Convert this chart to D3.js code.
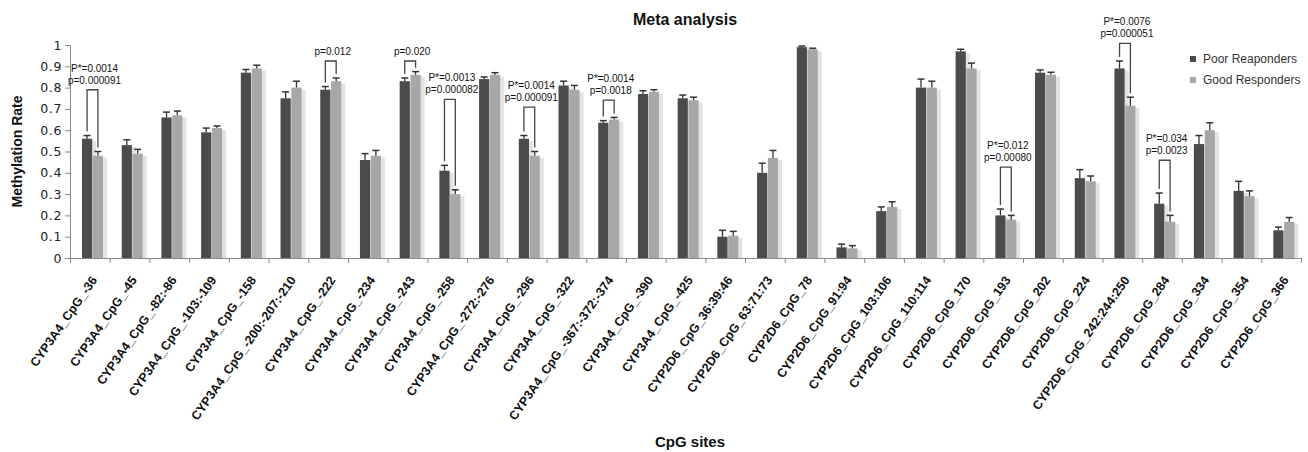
<!DOCTYPE html>
<html>
<head>
<meta charset="utf-8">
<script src="https://cdn.jsdelivr.net/npm/d3@7"></script>
<style>
  body { margin: 0; background: #fff; }
  svg { display: block; font-family: "Liberation Sans", Arial, sans-serif; }
</style>
</head>
<body>
<div id="chart"></div>
<script>
// CpG sites on the x axis
const sites = [
  "CYP3A4_CpG_-36", "CYP3A4_CpG_-45", "CYP3A4_CpG_-82:-86", "CYP3A4_CpG_-103:-109",
  "CYP3A4_CpG_-158", "CYP3A4_CpG_-200:-207:-210", "CYP3A4_CpG_-222", "CYP3A4_CpG_-234",
  "CYP3A4_CpG_-243", "CYP3A4_CpG_-258", "CYP3A4_CpG_-272:-276", "CYP3A4_CpG_-296",
  "CYP3A4_CpG_-322", "CYP3A4_CpG_-367:-372:-374", "CYP3A4_CpG_-390", "CYP3A4_CpG_-425",
  "CYP2D6_CpG_36:39:46", "CYP2D6_CpG_63:71:73", "CYP2D6_CpG_78", "CYP2D6_CpG_91:94",
  "CYP2D6_CpG_103:106", "CYP2D6_CpG_110:114", "CYP2D6_CpG_170", "CYP2D6_CpG_193",
  "CYP2D6_CpG_202", "CYP2D6_CpG_224", "CYP2D6_CpG_242:244:250", "CYP2D6_CpG_284",
  "CYP2D6_CpG_334", "CYP2D6_CpG_354", "CYP2D6_CpG_366"
];

// mean methylation rate
const poor = [
  0.56, 0.53, 0.66, 0.59, 0.87, 0.75, 0.79, 0.46, 0.83, 0.41, 0.84, 0.56, 0.81, 0.635, 0.77, 0.75,
  0.10, 0.40, 0.99, 0.05, 0.22, 0.80, 0.97, 0.20, 0.87, 0.375, 0.89, 0.255, 0.535, 0.315, 0.13
];
const good = [
  0.48, 0.49, 0.67, 0.61, 0.89, 0.80, 0.83, 0.48, 0.86, 0.30, 0.86, 0.48, 0.79, 0.65, 0.78, 0.74,
  0.105, 0.47, 0.98, 0.045, 0.24, 0.80, 0.89, 0.18, 0.86, 0.36, 0.715, 0.17, 0.60, 0.29, 0.17
];
// upper error bars
const poorErr = [
  0.015, 0.025, 0.025, 0.02, 0.015, 0.03, 0.015, 0.03, 0.015, 0.025, 0.01, 0.015, 0.02, 0.01, 0.015, 0.015,
  0.03, 0.045, 0.005, 0.015, 0.02, 0.04, 0.01, 0.03, 0.013, 0.04, 0.035, 0.05, 0.04, 0.045, 0.015
];
const goodErr = [
  0.02, 0.02, 0.02, 0.01, 0.015, 0.03, 0.015, 0.025, 0.015, 0.02, 0.01, 0.02, 0.02, 0.01, 0.01, 0.015,
  0.02, 0.035, 0.005, 0.013, 0.024, 0.03, 0.025, 0.02, 0.012, 0.025, 0.04, 0.03, 0.035, 0.025, 0.02
];

const yTicks = [0, 0.1, 0.2, 0.3, 0.4, 0.5, 0.6, 0.7, 0.8, 0.9, 1];
const seriesNames = ["Poor Reaponders", "Good Responders"];

// significance brackets: site, label lines, bracket level (methylation units)
const annotations = [
  { site: "CYP3A4_CpG_-36", lines: ["P*=0.0014", "p=0.000091"], level: 0.79 },
  { site: "CYP3A4_CpG_-222", lines: ["p=0.012"], level: 0.925 },
  { site: "CYP3A4_CpG_-243", lines: ["p=0.020"], level: 0.925 },
  { site: "CYP3A4_CpG_-258", lines: ["P*=0.0013", "p=0.000082"], level: 0.745 },
  { site: "CYP3A4_CpG_-296", lines: ["P*=0.0014", "p=0.000091"], level: 0.708 },
  { site: "CYP3A4_CpG_-367:-372:-374", lines: ["P*=0.0014", "p=0.0018"], level: 0.741 },
  { site: "CYP2D6_CpG_193", lines: ["P*=0.012", "p=0.00080"], level: 0.427 },
  { site: "CYP2D6_CpG_242:244:250", lines: ["P*=0.0076", "p=0.000051"], level: 1.008 },
  { site: "CYP2D6_CpG_284", lines: ["P*=0.034", "p=0.0023"], level: 0.459 }
];

const colors = { poor: "#4b4b4b", good: "#a7a7a7" };

const W = 1308, H = 452;
const plotLeft = 70, plotRight = 1301, plotTop = 45, plotBottom = 258;

const svg = d3.select("#chart").append("svg")
  .attr("width", W)
  .attr("height", H);

const x = d3.scaleBand().domain(sites).range([plotLeft, plotRight]);
const xSub = d3.scaleBand().domain(["poor", "good"]).range([12, 33]).paddingInner(0.06);
const y = d3.scaleLinear().domain([0, 1]).range([plotBottom, plotTop]);

const data = sites.map((s, i) => ({
  site: s, poor: poor[i], good: good[i], poorErr: poorErr[i], goodErr: goodErr[i]
}));

// Title
svg.append("text")
  .attr("x", 685).attr("y", 25)
  .attr("text-anchor", "middle")
  .style("font-size", "16px")
  .style("font-weight", "bold")
  .style("fill", "#111")
  .text("Meta analysis");

// Bars with soft shadow
const groups = svg.append("g").selectAll("g")
  .data(data)
  .join("g")
  .attr("transform", d => `translate(${x(d.site)},0)`);

["poor", "good"].forEach(k => {
  groups.append("rect")
    .attr("x", xSub(k) + 3)
    .attr("y", d => y(d[k]) + 2)
    .attr("width", xSub.bandwidth() + 1)
    .attr("height", d => plotBottom - y(d[k]) - 2)
    .attr("fill", "#e3e3e3");
});
["poor", "good"].forEach(k => {
  groups.append("rect")
    .attr("x", xSub(k))
    .attr("y", d => y(d[k]))
    .attr("width", xSub.bandwidth())
    .attr("height", d => plotBottom - y(d[k]))
    .attr("fill", colors[k]);

  // upper error bars
  const cx = xSub(k) + xSub.bandwidth() / 2;
  groups.append("line")
    .attr("x1", cx).attr("x2", cx)
    .attr("y1", d => y(d[k]))
    .attr("y2", d => y(d[k] + d[k + "Err"]))
    .attr("stroke", "#333").attr("stroke-width", 1.3);
  groups.append("line")
    .attr("x1", cx - 3.5).attr("x2", cx + 3.5)
    .attr("y1", d => y(d[k] + d[k + "Err"]))
    .attr("y2", d => y(d[k] + d[k + "Err"]))
    .attr("stroke", "#333").attr("stroke-width", 1.5);
});

// Y axis
svg.append("g")
  .attr("transform", `translate(${plotLeft},0)`)
  .call(d3.axisLeft(y).tickValues(yTicks).tickFormat(d => d3.format("~g")(d)).tickSize(5).tickSizeOuter(0))
  .call(g => g.select(".domain").attr("stroke", "#888"))
  .call(g => g.selectAll(".tick line").attr("stroke", "#888"))
  .call(g => g.selectAll(".tick text")
    .style("font-family", "'DejaVu Sans', sans-serif")
    .style("font-size", "12.5px")
    .style("letter-spacing", "0.6px")
    .style("fill", "#222"));

// X axis: boundary ticks
const xEdge = d3.scaleLinear().domain([0, sites.length]).range([plotLeft, plotRight]);
svg.append("g")
  .attr("transform", `translate(0,${plotBottom})`)
  .call(d3.axisBottom(xEdge).tickValues(d3.range(0, sites.length + 1)).tickFormat("").tickSize(5).tickSizeOuter(0))
  .call(g => g.select(".domain").attr("stroke", "#888"))
  .call(g => g.selectAll(".tick line").attr("stroke", "#888"));

// X axis: rotated category labels
svg.append("g")
  .attr("transform", `translate(0,${plotBottom})`)
  .call(d3.axisBottom(x).tickSize(0))
  .call(g => g.select(".domain").remove())
  .selectAll(".tick text")
  .attr("x", 0)
  .attr("y", 0)
  .attr("dy", 0)
  .attr("transform", "translate(8,22) rotate(-55)")
  .attr("text-anchor", "end")
  .style("font-family", "'Liberation Sans', Arial, sans-serif")
  .style("font-size", "12.5px")
  .style("font-weight", "bold")
  .style("fill", "#111");

// Axis titles
svg.append("text")
  .attr("transform", `translate(22,${(plotTop + plotBottom) / 2}) rotate(-90)`)
  .attr("text-anchor", "middle")
  .style("font-size", "14px")
  .style("font-weight", "bold")
  .style("fill", "#111")
  .text("Methylation Rate");

svg.append("text")
  .attr("x", 690).attr("y", 447)
  .attr("text-anchor", "middle")
  .style("font-size", "15px")
  .style("font-weight", "bold")
  .style("fill", "#111")
  .text("CpG sites");

// Significance brackets
const byName = new Map(data.map(d => [d.site, d]));
annotations.forEach(a => {
  const d = byName.get(a.site);
  const x0 = x(a.site) + xSub("poor") + xSub.bandwidth() / 2;
  const x1 = x(a.site) + xSub("good") + xSub.bandwidth() / 2;
  const yTop = y(a.level);
  svg.append("path")
    .attr("d", `M${x0},${y(d.poor + d.poorErr) - 4}V${yTop}H${x1}V${y(d.good + d.goodErr) - 4}`)
    .attr("fill", "none")
    .attr("stroke", "#444")
    .attr("stroke-width", 1.3);
  const n = a.lines.length;
  a.lines.forEach((t, i) => {
    svg.append("text")
      .attr("x", (x0 + x1) / 2 + 2)
      .attr("y", yTop - 6 - (n - 1 - i) * 12)
      .attr("text-anchor", "middle")
      .style("font-size", "10px")
      .style("fill", "#111")
      .text(t);
  });
});

// Legend
const legend = svg.append("g").attr("transform", "translate(1190,59)");
seriesNames.forEach((name, i) => {
  const row = legend.append("g").attr("transform", `translate(0,${i * 21})`);
  row.append("rect")
    .attr("x", 0).attr("y", -3)
    .attr("width", 6).attr("height", 6)
    .attr("fill", i === 0 ? colors.poor : colors.good);
  row.append("text")
    .attr("x", 13).attr("y", 0)
    .attr("dy", "0.35em")
    .style("font-size", "12px")
    .style("fill", "#333")
    .text(name);
});
</script>
</body>
</html>
